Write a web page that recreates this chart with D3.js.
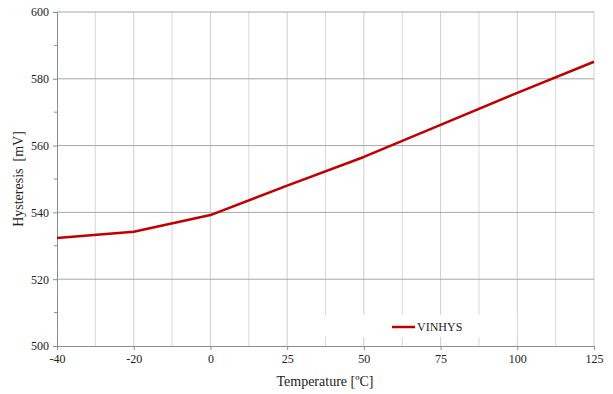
<!DOCTYPE html>
<html><head><meta charset="utf-8">
<script src="https://cdn.jsdelivr.net/npm/d3@7"></script>
<style>body{margin:0;background:#fff}svg{display:block}</style>
</head><body>
<script>
const categories = ["-40","-20","0","25","50","75","100","125"];
const vinhys = [532.3, 534.2, 539.2, 548.0, 556.6, 566.2, 575.8, 585.1];
const yTicks = [500, 520, 540, 560, 580, 600];
const yMinorTicks = [510, 530, 550, 570, 590];
const seriesName = "VINHYS";

const FONT = "'Liberation Serif', 'Times New Roman', serif";
const W = 613, H = 394;
const m = {l: 57, r: 19, t: 12, b: 48};
const svg = d3.select("body").append("svg").attr("width", W).attr("height", H);

const x = d3.scalePoint().domain(categories).range([m.l, W - m.r]);
const y = d3.scaleLinear().domain([500, 600]).range([H - m.b, m.t]);
const step = x.step();

const g = svg.append("g");
const mids = categories.slice(0, -1).map(c => x(c) + step / 2);
g.selectAll(".vminor").data(mids).join("line")
  .attr("x1", d => d).attr("x2", d => d).attr("y1", y(600)).attr("y2", y(500))
  .attr("stroke", "#d9d9d9").attr("stroke-width", 1);
g.selectAll(".vmajor").data(categories.slice(1)).join("line")
  .attr("x1", d => x(d)).attr("x2", d => x(d)).attr("y1", y(600)).attr("y2", y(500))
  .attr("stroke", "#cfcfcf").attr("stroke-width", 1);
g.selectAll(".hmajor").data(yTicks.slice(1)).join("line")
  .attr("x1", m.l).attr("x2", W - m.r).attr("y1", d => y(d)).attr("y2", d => y(d))
  .attr("stroke", "#a6a6a6").attr("stroke-width", 1);

const legX = 325, legY = 315;
svg.append("rect").attr("x", legX).attr("y", legY).attr("width", 192).attr("height", 22).attr("fill", "#fff");

const yAxis = d3.axisLeft(y).tickValues(yTicks).tickSize(4).tickPadding(4).tickFormat(d3.format("d"));
const ya = svg.append("g").attr("transform", `translate(${m.l},0)`).call(yAxis);
ya.attr("font-family", null);
ya.select(".domain").attr("stroke", "#8c8c8c");
ya.selectAll(".tick line").attr("stroke", "#8c8c8c");
ya.selectAll("text").style("font-size", "12px").style("font-family", FONT).attr("fill", "#222");
svg.append("g").selectAll("line").data(yMinorTicks).join("line")
  .attr("x1", m.l - 3).attr("x2", m.l).attr("y1", d => y(d)).attr("y2", d => y(d)).attr("stroke", "#8c8c8c");

const xAxis = d3.axisBottom(x).tickSize(4).tickPadding(4);
const xa = svg.append("g").attr("transform", `translate(0,${y(500)})`).call(xAxis);
xa.attr("font-family", null);
xa.select(".domain").attr("stroke", "#8c8c8c");
xa.selectAll(".tick line").attr("stroke", "#8c8c8c");
xa.selectAll("text").style("font-size", "12px").style("font-family", FONT).attr("fill", "#222");

const line = d3.line().x((d, i) => x(categories[i])).y(d => y(d));
svg.append("path").datum(vinhys).attr("d", line).attr("fill", "none")
  .attr("stroke", "#C00000").attr("stroke-width", 2.5).attr("stroke-linejoin", "round");

svg.append("line").attr("x1", 392).attr("x2", 415).attr("y1", 327).attr("y2", 327)
  .attr("stroke", "#C00000").attr("stroke-width", 2.5);
svg.append("text").attr("x", 417).attr("y", 331).style("font-size", "12px")
  .style("font-family", FONT).attr("fill", "#222").text(seriesName);

svg.append("text").attr("x", 325).attr("y", 386).attr("text-anchor", "middle")
  .style("font-size", "14px").style("font-family", FONT).attr("fill", "#222").text("Temperature [ºC]");
svg.append("text").attr("transform", `translate(23,${(y(500)+y(600))/2}) rotate(-90)`)
  .attr("text-anchor", "middle").style("font-size", "14px").style("font-family", FONT)
  .style("white-space", "pre").attr("fill", "#222").text("Hysteresis  [mV]");
</script>
</body></html>
